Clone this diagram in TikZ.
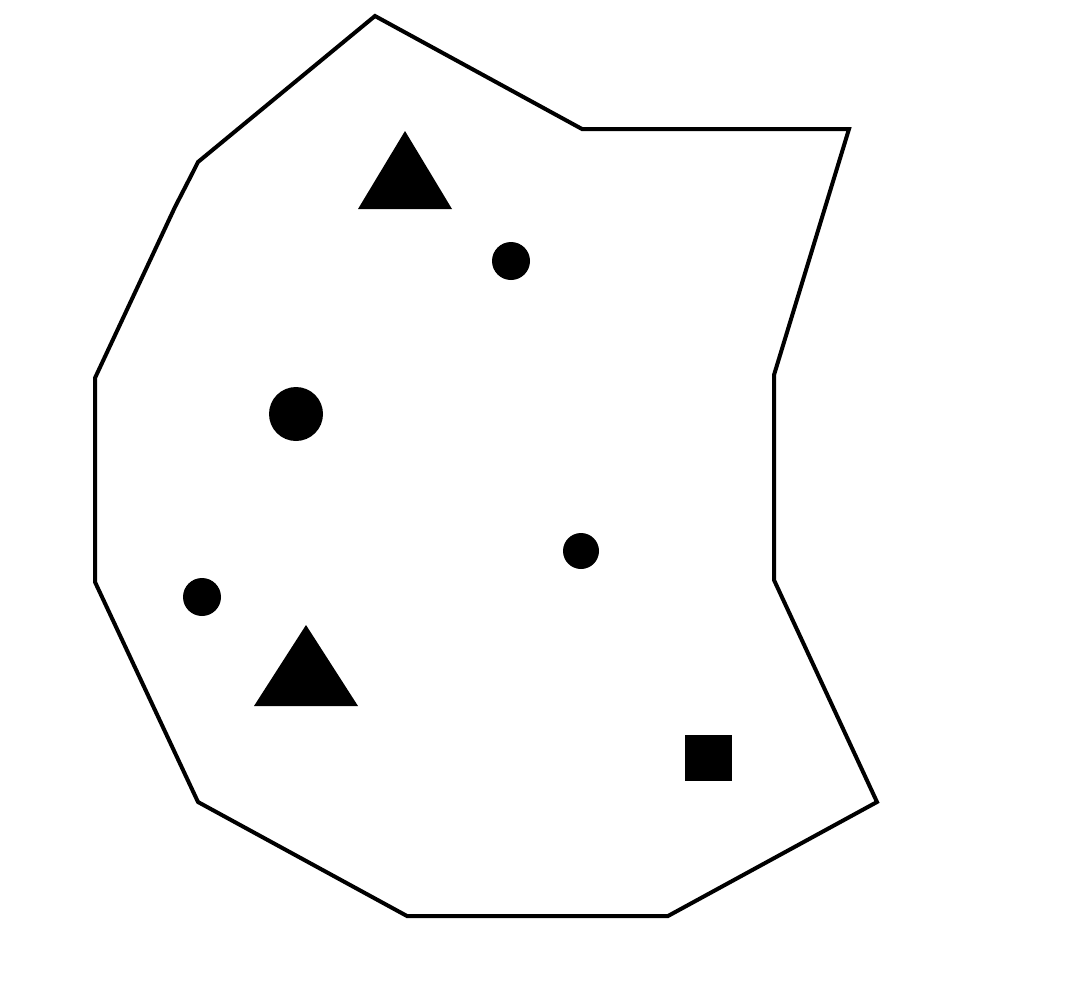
\documentclass[tikz,border=0pt]{standalone}
\begin{document}
\begin{tikzpicture}[x=1pt,y=-1pt,
  outline/.style={draw=black,line width=4pt,line join=miter},
  blob/.style={fill=black}]
\useasboundingbox[fill=white] (0,0) rectangle (1080,1004);
\draw[outline] (375,16) -- (582,129) -- (849,129) -- (774,375) -- (774,580) -- (877,802) -- (668,916) -- (407,916) -- (198,802) -- (95,582) -- (95,378) -- (175,207) -- (193,172) -- (198,162) -- cycle;
\fill[blob] (405,131) -- (452,209) -- (358,209) -- cycle;
\fill[blob] (306,625) -- (358,706) -- (254,706) -- cycle;
\fill[blob] (296,414) circle (27);
\fill[blob] (511,261) circle (19);
\fill[blob] (581,551) circle (18);
\fill[blob] (202,597) circle (19);
\fill[blob] (685,735) rectangle (732,781);
\end{tikzpicture}
\end{document}
